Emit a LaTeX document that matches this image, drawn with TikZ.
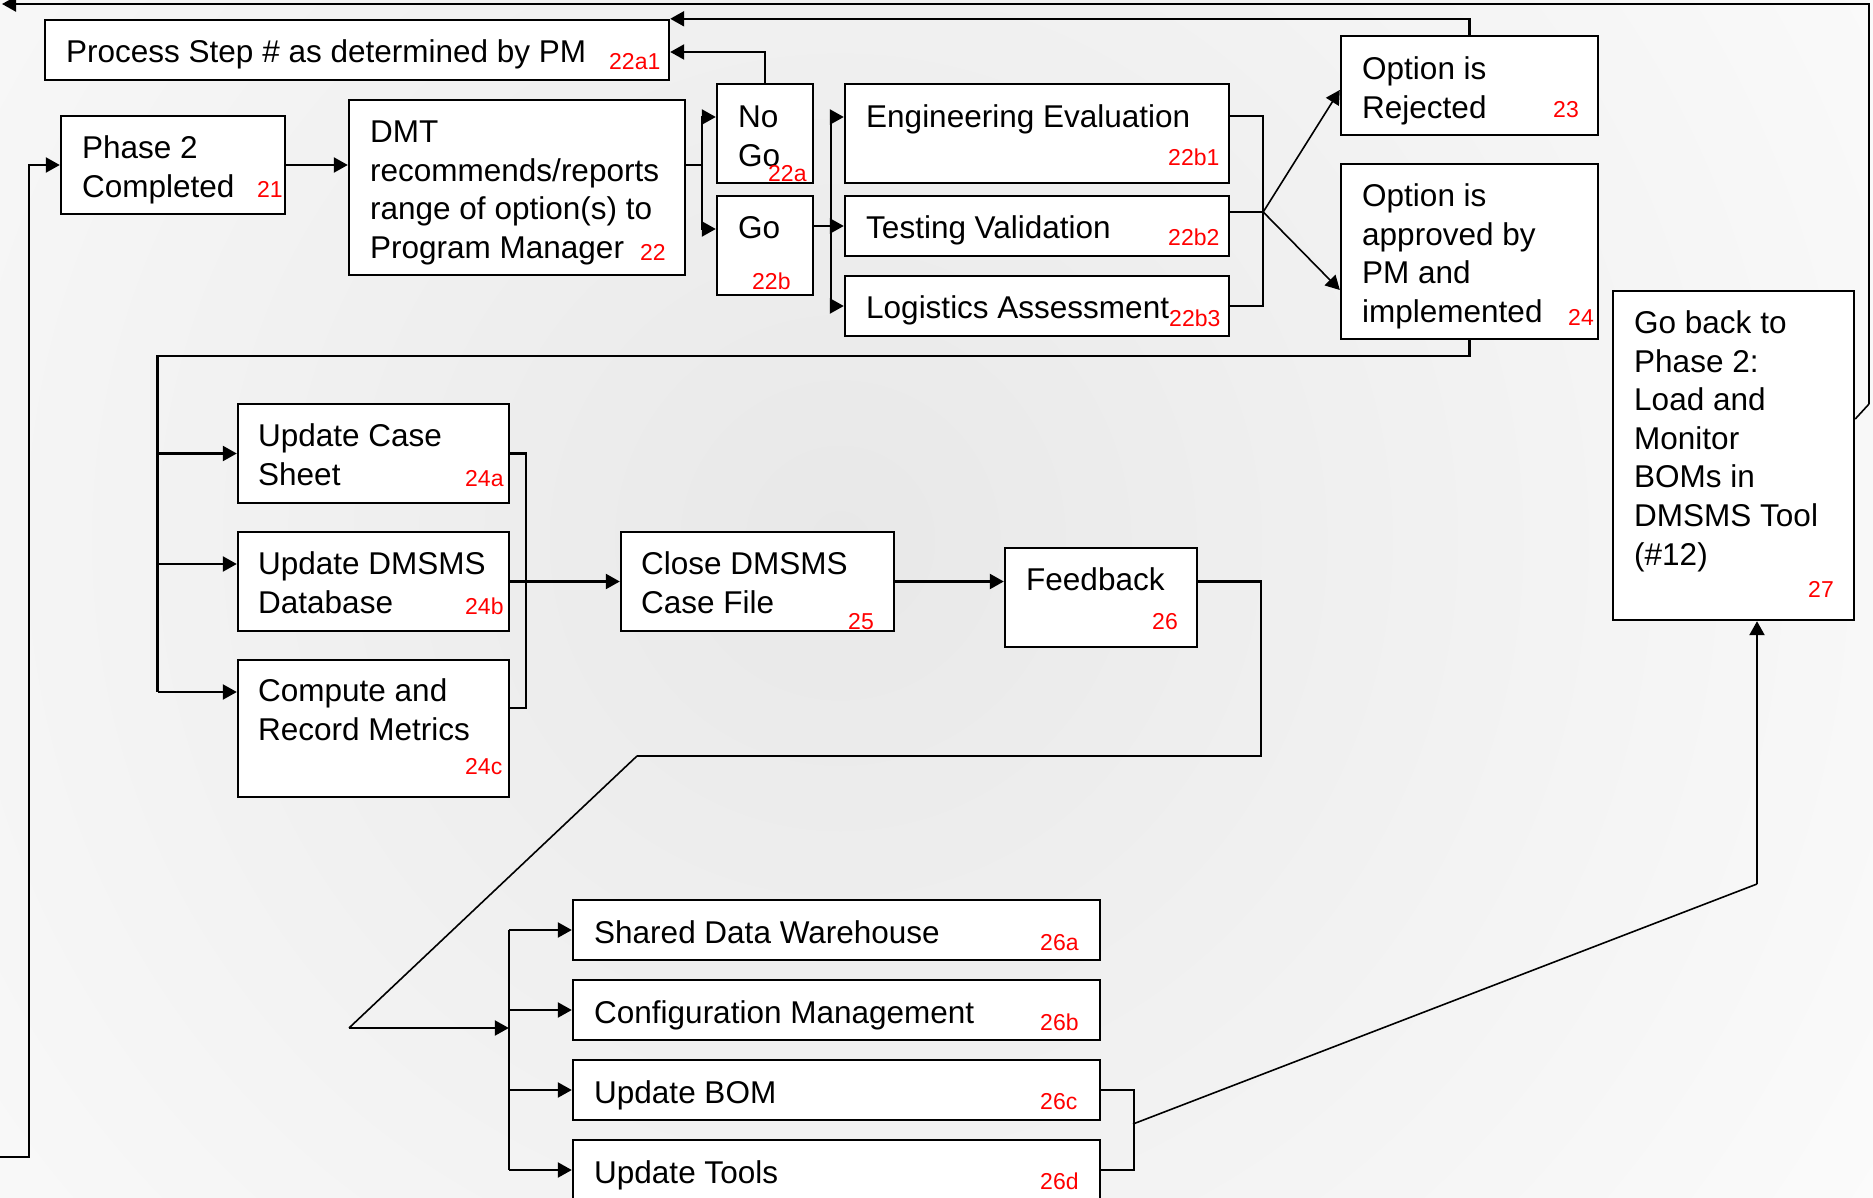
\documentclass[tikz,border=0pt]{standalone}
\usepackage{fontspec}
\setmainfont{Liberation Sans}
\usetikzlibrary{arrows.meta,calc}
\begin{document}
\begin{tikzpicture}[x=1pt,y=-1pt,
  box/.style={draw, line width=2.4pt, fill=white, inner sep=0pt},
  txt/.style={anchor=base west, inner sep=0pt, align=left, font=\fontsize{31.5}{38.6}\selectfont},
  num/.style={anchor=base west, inner sep=0pt, text=red, font=\fontsize{23}{27}\selectfont},
  conn/.style={line width=2.3pt},
  thinconn/.style={line width=1.6pt},
  arr/.style={-{Triangle[length=14pt,width=15pt]}}]
\useasboundingbox (0,0) rectangle (1873,1198);
\begin{scope}
\clip (0,0) rectangle (1873,1198);
\fill[white] (0,0) rectangle (1873,1198);
\shade[inner color=black!9, outer color=white] (840,540) circle (1500);
\end{scope}

% boxes
\node[box, minimum width=624pt, minimum height=60pt] (pm) at (357,50) {};
\node[box, minimum width=224pt, minimum height=98pt] (p2) at (173,165) {};
\node[box, minimum width=336pt, minimum height=175pt] (dmt) at (517,187.5) {};
\node[box, minimum width=96pt, minimum height=99pt] (nogo) at (765,133.5) {};
\node[box, minimum width=96pt, minimum height=99pt] (go) at (765,245.5) {};
\node[box, minimum width=384pt, minimum height=99pt] (eng) at (1037,133.5) {};
\node[box, minimum width=384pt, minimum height=60pt] (test) at (1037,226) {};
\node[box, minimum width=384pt, minimum height=60pt] (log) at (1037,306) {};
\node[box, minimum width=257pt, minimum height=99pt] (rej) at (1469.5,85.5) {};
\node[box, minimum width=257pt, minimum height=175pt] (app) at (1469.5,251.5) {};
\node[box, minimum width=241pt, minimum height=329pt] (back) at (1733.5,455.5) {};
\node[box, minimum width=271pt, minimum height=99pt] (a24) at (373.5,453.5) {};
\node[box, minimum width=271pt, minimum height=99pt] (b24) at (373.5,581.5) {};
\node[box, minimum width=271pt, minimum height=137pt] (c24) at (373.5,728.5) {};
\node[box, minimum width=273pt, minimum height=99pt] (close) at (757.5,581.5) {};
\node[box, minimum width=192pt, minimum height=99pt] (fb) at (1101,597.5) {};
\node[box, minimum width=527pt, minimum height=60pt] (a26) at (836.5,930) {};
\node[box, minimum width=527pt, minimum height=60pt] (b26) at (836.5,1010) {};
\node[box, minimum width=527pt, minimum height=60pt] (c26) at (836.5,1090) {};
\node[box, minimum width=527pt, minimum height=60pt] (d26) at (836.5,1170) {};

% texts (anchor = baseline of the last line)
\node[txt] (pmt) at (66,62.5) {Process Step \# as determined by PM};
\node[num] (pmn) at (609,70) {22a1};
\node[txt] (p2t) at (82,197.1) {Phase 2\\Completed};
\node[num] (p2n) at (257,198) {21};
\node[txt] (dmtt) at (370,258.3) {DMT\\recommends/reports\\range of option(s) to\\Program Manager};
\node[num] (dmtn) at (640,261) {22};
\node[txt] (nogot) at (738,166.1) {No\\Go};
\node[num] (nogon) at (768,182) {22a};
\node[txt] (got) at (738,238.5) {Go};
\node[num] (gon) at (752,290) {22b};
\node[txt] (engt) at (866,127.5) {Engineering Evaluation};
\node[num] (engn) at (1168,166) {22b1};
\node[txt] (testt) at (866,238.5) {Testing Validation};
\node[num] (testn) at (1168,246) {22b2};
\node[txt] (logt) at (866,318.5) {Logistics Assessment};
\node[num] (logn) at (1169,326) {22b3};
\node[txt] (rejt) at (1362,118.1) {Option is\\Rejected};
\node[num] (rejn) at (1553,118) {23};
\node[txt] (appt) at (1362,322.3) {Option is\\approved by\\PM and\\implemented};
\node[num] (appn) at (1568,325) {24};
\node[txt] (backt) at (1634,565.1) {Go back to\\Phase 2:\\Load and\\Monitor\\BOMs in\\DMSMS Tool\\(\#12)};
\node[num] (backn) at (1808,597) {27};
\node[txt] (a24t) at (258,485.1) {Update Case\\Sheet};
\node[num] (a24n) at (465,486) {24a};
\node[txt] (b24t) at (258,613.1) {Update DMSMS\\Database};
\node[num] (b24n) at (465,614) {24b};
\node[txt] (c24t) at (258,740.1) {Compute and\\Record Metrics};
\node[num] (c24n) at (465,774) {24c};
\node[txt] (closet) at (641,613.1) {Close DMSMS\\Case File};
\node[num] (closen) at (848,629) {25};
\node[txt] (fbt) at (1026,590.5) {Feedback};
\node[num] (fbn) at (1152,629) {26};
\node[txt] (a26t) at (594,943.5) {Shared Data Warehouse};
\node[num] (a26n) at (1040,950) {26a};
\node[txt] (b26t) at (594,1023.5) {Configuration Management};
\node[num] (b26n) at (1040,1030) {26b};
\node[txt] (c26t) at (594,1103.5) {Update BOM};
\node[num] (c26n) at (1040,1109) {26c};
\node[txt] (d26t) at (594,1183.5) {Update Tools};
\node[num] (d26n) at (1040,1189) {26d};

% connectors top row
\draw[conn,arr] (p2.east) -- (dmt.west |- p2.east);
\path (dmt.east |- p2.east) ++(16,0) coordinate (s1);
\draw[conn] (dmt.east |- p2.east) -- (s1);
\draw[conn,arr] (s1) |- ([yshift=16.5pt]nogo.west);
\draw[conn,arr] (s1) |- ([yshift=16.5pt]go.west);
\path (go.east |- test.west) ++(16.5,0) coordinate (s2);
\draw[conn] (go.east |- test.west) -- (s2);
\draw[conn,arr] (s2) |- ([yshift=16.5pt]eng.west);
\draw[conn,arr] (s2) |- (log.west);
\draw[conn,arr] (s2) -- (test.west);
\path ([yshift=14pt]test.east) ++(33,0) coordinate (m1);
\draw[conn] ([yshift=17.5pt]eng.east) -| (m1);
\draw[conn] (log.east) -| (m1);
\draw[conn] ([yshift=14pt]test.east) -- (m1);
\draw[thinconn,arr] (m1) -- ([yshift=-4.5pt]rej.west);
\draw[thinconn,arr] (m1) -- ([yshift=-38.5pt]app.west);
\draw[conn,arr] (nogo.north) |- ([yshift=-2pt]pm.east);
\draw[conn,arr] (rej.north) |- (pm.north east);

% approved -> 24 group
\coordinate (j1) at (157.5,356);
\coordinate (b24in) at ([yshift=17.5pt]b24.west);
\coordinate (c24in) at ([yshift=36.5pt]c24.west);
\draw[conn] (app.south) |- (j1) -- (j1 |- c24in);
\draw[conn,arr] (j1 |- a24.west) -- (a24.west);
\draw[conn,arr] (j1 |- b24in) -- (b24in);
\draw[conn,arr] (j1 |- c24in) -- (c24in);
\coordinate (m2) at ([xshift=16pt]b24.east);
\draw[conn] (a24.east) -| (m2);
\draw[conn] ([yshift=20.5pt]c24.east) -| (m2);
\draw[conn,arr] (b24.east) -- (close.west);
\draw[conn,arr] (close.east) -- (fb.west |- close.east);

% feedback -> 26 group
\coordinate (k1) at (1261,756);
\coordinate (k2) at (637,756);
\coordinate (k3) at (349,1028);
\coordinate (j2) at ([xshift=-63pt]a26.west);
\draw[conn] (fb.east |- close.east) -| (k1) -- (k2);
\draw[thinconn] (k2) -- (k3);
\draw[conn,arr] (k3) -- (j2 |- k3);
\draw[conn] (j2) -- (j2 |- d26.west);
\draw[conn,arr] (j2) -- (a26.west);
\draw[conn,arr] (j2 |- b26.west) -- (b26.west);
\draw[conn,arr] (j2 |- c26.west) -- (c26.west);
\draw[conn,arr] (j2 |- d26.west) -- (d26.west);

% 26c/26d -> 27
\coordinate (m3) at ([xshift=33pt]c26.east);
\draw[conn] (c26.east) -- (m3) |- (d26.east);
\coordinate (m4) at (1133,1124);
\coordinate (k4) at (1757,884);
\draw[thinconn] (m4) -- (k4);
\draw[conn,arr] (k4) -- (k4 |- back.south);

% 27 -> top loop
\coordinate (k5) at (1869,404);
\coordinate (k6) at (1869,4);
\coordinate (e1) at (2,4);
\draw[thinconn] ([yshift=36.5pt]back.east) -- (k5);
\draw[conn,arr] (k5) -- (k6) -- (e1);

% left loop into Phase 2
\coordinate (e2) at (-5,1157);
\coordinate (k7) at (29,1157);
\draw[conn,arr] (e2) -- (k7) |- (p2.west);
\end{tikzpicture}
\end{document}
